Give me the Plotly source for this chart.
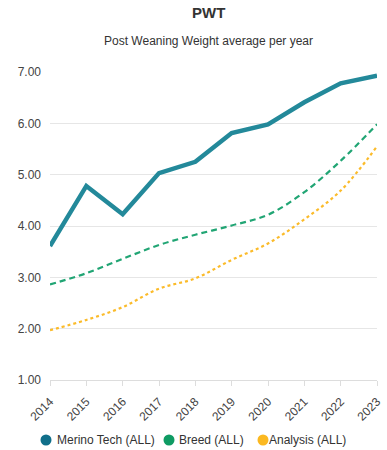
import plotly.graph_objects as go

years = ["2014", "2015", "2016", "2017", "2018", "2019", "2020", "2021", "2022", "2023"]
merino_tech = [3.61, 4.78, 4.23, 5.03, 5.25, 5.81, 5.98, 6.41, 6.78, 6.93]
breed = [2.86, 3.08, 3.36, 3.63, 3.83, 4.01, 4.22, 4.66, 5.27, 5.98]
analysis = [1.97, 2.17, 2.42, 2.78, 2.98, 3.34, 3.66, 4.13, 4.69, 5.55]

series_names = ["Merino Tech (ALL)", "Breed (ALL)", "Analysis (ALL)"]
line_colors = ["#23899a", "#21a574", "#fbbb2a"]
legend_colors = ["#106f8a", "#0f9b63", "#fbb820"]

W, H = 387, 450
ML, MR, MT, MB = 50, 10, 72, 70
PW = W - ML - MR
PH = H - MT - MB


def px_x(p):
    return (p - ML) / PW


def px_y(p):
    return (H - MB - p) / PH


fig = go.Figure()
fig.add_trace(go.Scatter(x=years, y=merino_tech, mode="lines", name=series_names[0],
                         line=dict(color=line_colors[0], width=4.5)))
fig.add_trace(go.Scatter(x=years, y=breed, mode="lines", name=series_names[1],
                         line=dict(color=line_colors[1], width=2.2, dash="6px,4px", shape="spline")))
fig.add_trace(go.Scatter(x=years, y=analysis, mode="lines", name=series_names[2],
                         line=dict(color=line_colors[2], width=2.2, dash="3px,3px", shape="spline")))

fig.update_layout(
    width=W, height=H,
    margin=dict(l=ML, r=MR, t=MT, b=MB, autoexpand=False),
    paper_bgcolor="white", plot_bgcolor="white",
    font=dict(family="Liberation Sans, Arial, sans-serif", size=12, color="#444"),
    showlegend=False,
)
fig.add_annotation(text="<b>PWT</b>", xref="paper", yref="paper", x=0.5 - 5 / PW, y=px_y(12),
                   showarrow=False, font=dict(size=15, color="#333"), yanchor="middle")
fig.add_annotation(text="Post Weaning Weight average per year", xref="paper", yref="paper",
                   x=0.5 - 5 / PW, y=px_y(41), showarrow=False, font=dict(size=12, color="#333"),
                   yanchor="middle")

# legend (manual, to match the compact layout)
legend_circle_x = [46, 169, 263]
legend_text_x = [57, 179, 269]
legend_y = 440
r = 5.5
for n, c, cx, tx in zip(series_names, legend_colors, legend_circle_x, legend_text_x):
    fig.add_shape(type="circle", xref="paper", yref="paper",
                  x0=px_x(cx - r), x1=px_x(cx + r), y0=px_y(legend_y + r), y1=px_y(legend_y - r),
                  fillcolor=c, line=dict(width=0))
    fig.add_annotation(text=n, xref="paper", yref="paper", x=px_x(tx), y=px_y(legend_y),
                       xanchor="left", yanchor="middle", showarrow=False,
                       font=dict(size=12, color="#333"), xshift=-2)

fig.update_xaxes(type="category", tickangle=-45, showgrid=False, showline=True,
                 linecolor="#ddd", linewidth=1, ticks="outside", ticklen=5, tickcolor="#ddd",
                 range=[0, 9], tickfont=dict(size=12, color="#444"), automargin=False,
                 ticklabelstandoff=4)
fig.update_yaxes(range=[1, 7], dtick=1, tickformat=".2f", showgrid=True, gridcolor="#e6e6e6",
                 zeroline=False, showline=False, tickfont=dict(size=12, color="#444"),
                 ticklabelstandoff=8, automargin=False)

fig.write_html("out.html", config={"displayModeBar": False},
               post_script="document.body.style.margin='0';document.body.style.overflow='hidden';")
